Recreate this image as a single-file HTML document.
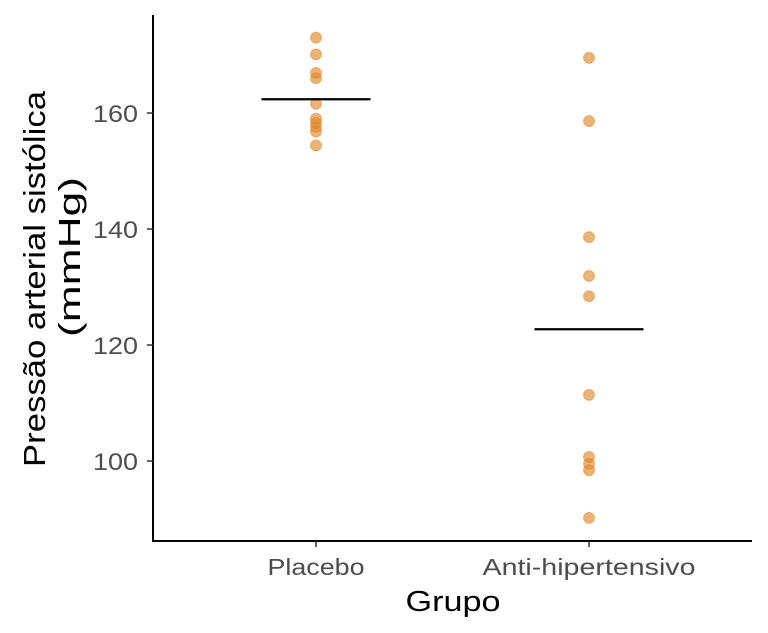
<!DOCTYPE html>
<html><head><meta charset="utf-8"><style>
body{margin:0;background:#fff;}
svg{display:block;font-family:"Liberation Sans","DejaVu Sans",sans-serif;}
</style></head><body>
<svg id="chart" width="768" height="633">
<g id="axes"></g><g id="marks"></g>
<text x="453" y="611" font-size="29" text-anchor="middle" textLength="95" lengthAdjust="spacingAndGlyphs" fill="#000">Grupo</text>
<g transform="rotate(-90)">
<text x="-279" y="45" font-size="31" text-anchor="middle" textLength="376" lengthAdjust="spacingAndGlyphs" fill="#000">Pressão arterial sistólica</text>
<text x="-257" y="80" font-size="31" text-anchor="middle" textLength="160" lengthAdjust="spacingAndGlyphs" fill="#000">(mmHg)</text>
</g>
</svg>
<script>
const categories=["Placebo","Anti-hipertensivo"];
const placeboValues=[173.0,170.1,166.9,166.0,161.6,159.0,158.3,157.6,156.8,154.4];
const antiValues=[169.5,158.6,138.6,131.9,128.4,111.4,100.7,99.5,98.4,90.2];
const yTicks=[100,120,140,160];
const series=[placeboValues,antiValues];
const catLabelWidths=[97,213];
const NS="http://www.w3.org/2000/svg";
function y(v){return 113+(160-v)*5.8;}
function x(i){return 316+i*273;}
function mk(t,a,p){const e=document.createElementNS(NS,t);for(const k in a)e.setAttribute(k,a[k]);p.appendChild(e);return e;}
const ax=document.getElementById('axes'),mg=document.getElementById('marks');
const yl=mk('line',{x1:153,y1:15,x2:153,y2:542,stroke:'#000','stroke-width':2},ax);


const xl=mk('line',{x1:152,y1:541,x2:752,y2:541,stroke:'#000','stroke-width':2},ax);


yTicks.forEach(t=>{
 const tk=mk('line',{x1:147,x2:153,y1:y(t),y2:y(t),stroke:'#333','stroke-width':1.5},ax);
 
 
 const tl=mk('text',{x:138,y:y(t)+9,'font-size':24,'text-anchor':'end',textLength:45,lengthAdjust:'spacingAndGlyphs',fill:'#4d4d4d'},ax);
 tl.textContent=t;
 
 
});
categories.forEach((c,i)=>{
 const tk=mk('line',{x1:x(i),x2:x(i),y1:541,y2:547,stroke:'#333','stroke-width':1.5},ax);
 
 
 const tl=mk('text',{x:x(i),y:575,'font-size':23,'text-anchor':'middle',textLength:catLabelWidths[i],lengthAdjust:'spacingAndGlyphs',fill:'#4d4d4d'},ax);
 tl.textContent=c;
 
 
 const vals=series[i];
 vals.forEach(v=>{
  const p=mk('circle',{cx:x(i),cy:y(v),r:5.5,fill:'#E08A2E','fill-opacity':0.65,stroke:'#E08A2E','stroke-opacity':0.5,'stroke-width':1},mg);
  
  
 });
 const m=vals.reduce((a,b)=>a+b,0)/vals.length;
 const ml=mk('line',{x1:x(i)-54.5,x2:x(i)+54.5,y1:y(m),y2:y(m),stroke:'#000','stroke-width':2.2},mg);
 
 
});
</script>
</body></html>
